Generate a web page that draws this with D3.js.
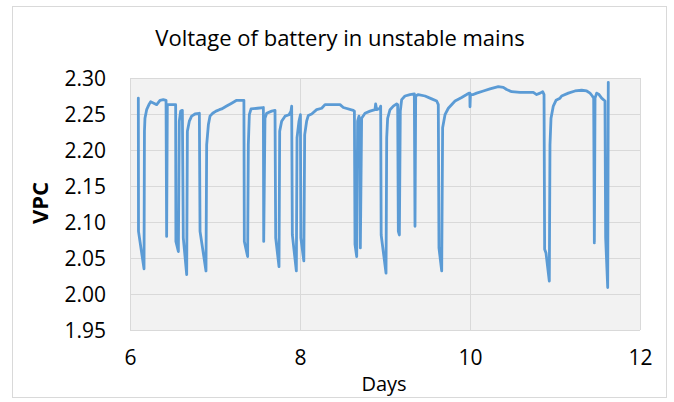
<!DOCTYPE html>
<html>
<head>
<meta charset="utf-8">
<script src="https://cdn.jsdelivr.net/npm/d3@7"></script>
<style>
  html, body { margin: 0; padding: 0; background: #fff; }
  svg { display: block; }
  text { font-family: "Open Sans", "Liberation Sans", sans-serif; fill: #000; }
</style>
</head>
<body>
<svg id="chart" width="674" height="402"></svg>
<script>
const title = "Voltage of battery in unstable mains";
const xLabel = "Days";
const yLabel = "VPC";
const xTicks = [6, 8, 10, 12];
const yTicks = [1.95, 2.00, 2.05, 2.10, 2.15, 2.20, 2.25, 2.30];

// Days (x) and volts per cell (y)
const days = [
  6.098, 6.100, 6.165, 6.170, 6.176, 6.196, 6.227, 6.243, 6.280, 6.314, 6.353, 6.392, 6.424, 6.431, 6.439, 6.537,
  6.540, 6.569, 6.580, 6.596, 6.616, 6.627, 6.667, 6.675, 6.698, 6.725, 6.765, 6.816, 6.824, 6.894, 6.902, 6.922,
  6.941, 6.973, 7.012, 7.051, 7.078, 7.137, 7.196, 7.255, 7.340, 7.345, 7.384, 7.392, 7.404, 7.424, 7.500, 7.569,
  7.573, 7.588, 7.608, 7.667, 7.706, 7.714, 7.753, 7.761, 7.784, 7.824, 7.871, 7.894, 7.902, 7.910, 7.957, 7.965,
  7.988, 8.005, 8.010, 8.045, 8.055, 8.078, 8.098, 8.137, 8.196, 8.255, 8.294, 8.471, 8.510, 8.627, 8.640, 8.647,
  8.667, 8.678, 8.694, 8.706, 8.710, 8.725, 8.765, 8.824, 8.882, 8.890, 8.902, 8.941, 8.949, 8.955, 9.012, 9.020,
  9.031, 9.059, 9.098, 9.137, 9.149, 9.157, 9.169, 9.180, 9.196, 9.235, 9.294, 9.345, 9.353, 9.361, 9.392, 9.471,
  9.549, 9.608, 9.627, 9.635, 9.667, 9.678, 9.706, 9.745, 9.824, 9.902, 9.961, 9.988, 9.998, 10.000, 10.005, 10.039,
  10.078, 10.157, 10.235, 10.333, 10.392, 10.431, 10.490, 10.588, 10.745, 10.784, 10.824, 10.855, 10.871, 10.878, 10.894, 10.933,
  10.941, 10.953, 10.980, 11.012, 11.059, 11.078, 11.157, 11.235, 11.314, 11.373, 11.412, 11.439, 11.455, 11.463, 11.471, 11.490,
  11.518, 11.549, 11.588, 11.596, 11.620, 11.627
];
const vpc = [
  2.272, 2.087, 2.035, 2.226, 2.244, 2.256, 2.264, 2.267, 2.265, 2.263, 2.269, 2.270, 2.269, 2.080, 2.263, 2.263,
  2.073, 2.059, 2.240, 2.254, 2.255, 2.078, 2.027, 2.226, 2.240, 2.247, 2.250, 2.251, 2.087, 2.032, 2.207, 2.235,
  2.247, 2.251, 2.254, 2.256, 2.257, 2.261, 2.265, 2.269, 2.269, 2.073, 2.052, 2.207, 2.249, 2.257, 2.258, 2.259,
  2.073, 2.244, 2.251, 2.254, 2.255, 2.078, 2.038, 2.226, 2.240, 2.247, 2.249, 2.254, 2.261, 2.082, 2.032, 2.217,
  2.240, 2.249, 2.078, 2.046, 2.221, 2.240, 2.248, 2.250, 2.256, 2.258, 2.263, 2.263, 2.259, 2.255, 2.254, 2.069,
  2.052, 2.240, 2.247, 2.235, 2.064, 2.244, 2.251, 2.254, 2.256, 2.264, 2.256, 2.258, 2.261, 2.082, 2.029, 2.217,
  2.244, 2.256, 2.261, 2.264, 2.263, 2.087, 2.082, 2.254, 2.270, 2.275, 2.277, 2.278, 2.094, 2.275, 2.277, 2.275,
  2.271, 2.268, 2.263, 2.064, 2.032, 2.231, 2.249, 2.258, 2.268, 2.273, 2.277, 2.279, 2.279, 2.260, 2.277, 2.277,
  2.279, 2.282, 2.285, 2.288, 2.287, 2.284, 2.281, 2.280, 2.280, 2.277, 2.279, 2.281, 2.277, 2.062, 2.057, 2.018,
  2.207, 2.244, 2.261, 2.269, 2.272, 2.275, 2.279, 2.282, 2.283, 2.282, 2.279, 2.275, 2.272, 2.071, 2.272, 2.279,
  2.277, 2.272, 2.268, 2.078, 2.009, 2.294
];

const data = days.map((d, i) => ({ x: d, y: vpc[i] }));

const svg = d3.select("#chart");
const plot = { left: 130, right: 640, top: 78, bottom: 330 };

// outer chart border
svg.append("rect")
  .attr("x", 12.5).attr("y", 6.5)
  .attr("width", 654).attr("height", 391)
  .attr("fill", "#fff").attr("stroke", "#d9d9d9").attr("stroke-width", 1);

const x = d3.scaleLinear().domain([6, 12]).range([plot.left, plot.right]);
const y = d3.scaleLinear().domain([1.95, 2.30]).range([plot.bottom, plot.top]);

// plot background
svg.append("rect")
  .attr("x", plot.left).attr("y", plot.top)
  .attr("width", plot.right - plot.left).attr("height", plot.bottom - plot.top)
  .attr("fill", "#f2f2f2");

// gridlines
const yGrid = d3.axisLeft(y).tickValues(yTicks).tickSize(-(plot.right - plot.left)).tickFormat("");
svg.append("g").attr("transform", `translate(${plot.left},0)`).call(yGrid)
  .call(g => g.select(".domain").remove())
  .call(g => g.selectAll("line").attr("stroke", "#d9d9d9").attr("stroke-width", 1));

const xGrid = d3.axisBottom(x).tickValues(xTicks).tickSize(-(plot.bottom - plot.top)).tickFormat("");
svg.append("g").attr("transform", `translate(0,${plot.bottom})`).call(xGrid)
  .call(g => g.select(".domain").remove())
  .call(g => g.selectAll("line").attr("stroke", "#d9d9d9").attr("stroke-width", 1));

// y tick labels
const yAxis = d3.axisLeft(y).tickValues(yTicks).tickSize(0).tickPadding(0).tickFormat(d3.format(".2f"));
svg.append("g").attr("transform", `translate(${plot.left - 24},0)`).call(yAxis)
  .call(g => g.select(".domain").remove())
  .call(g => g.selectAll("text")
    .attr("font-size", 21).attr("font-family", "'Open Sans', sans-serif").attr("fill", "#000").attr("dy", "0.35em"));

// x tick labels
const xAxis = d3.axisBottom(x).tickValues(xTicks).tickSize(0).tickPadding(0).tickFormat(d3.format("d"));
svg.append("g").attr("transform", `translate(0,${plot.bottom + 20})`).call(xAxis)
  .call(g => g.select(".domain").remove())
  .call(g => g.selectAll("text")
    .attr("font-size", 21).attr("font-family", "'Open Sans', sans-serif").attr("fill", "#000"));

// line
const line = d3.line().x(d => x(d.x)).y(d => y(d.y));
svg.append("path").datum(data)
  .attr("d", line)
  .attr("fill", "none")
  .attr("stroke", "#5b9bd5")
  .attr("stroke-width", 2.8)
  .attr("stroke-linejoin", "round")
  .attr("stroke-linecap", "round");

// title
svg.append("text")
  .attr("x", 340).attr("y", 46)
  .attr("text-anchor", "middle")
  .attr("font-size", 22)
  .text(title);

// x label
svg.append("text")
  .attr("x", 384).attr("y", 391)
  .attr("text-anchor", "middle")
  .attr("font-size", 20)
  .text(xLabel);

// y label
svg.append("text")
  .attr("transform", `translate(48,203) rotate(-90)`)
  .attr("text-anchor", "middle")
  .attr("font-size", 22)
  .attr("font-weight", "bold")
  .text(yLabel);
</script>
</body>
</html>
